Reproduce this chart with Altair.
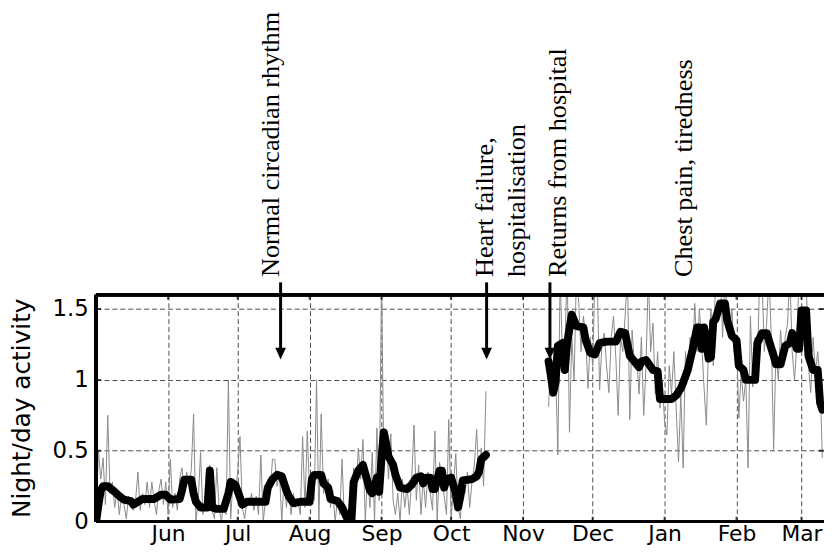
import altair as alt
import pandas as pd

START = pd.Timestamp("2005-05-01")

# thin grey daily series, first period (day 0 = 1 May)
gray1_start = 0
gray1 = [0.05, 0.50, 0.30, 0.45, 0.12, 0.75, 0.20, 0.28, 0.10, 0.22,
         0.05, 0.20, 0.12, 0.02, 0.18, 0.10, 0.08, 0.15, 0.35, 0.08,
         0.20, 0.12, 0.28, 0.10, 0.28, 0.15, 0.05, 0.22, 0.30, 0.12,
         0.28, 0.05, 0.44, 0.10, 0.20, 0.08, 0.30, 0.38, 0.22, 0.35,
         0.28, 0.36, 0.76, 0.00, 0.15, 0.49, 0.05, 0.12, 0.20, 0.40,
         0.08, 0.02, 0.38, 0.10, 0.00, 0.15, 0.05, 1.00, 0.02, 0.30,
         0.20, 0.35, 0.60, 0.10, 0.02, 0.15, 0.12, 0.20, 0.08, 0.18,
         0.05, 0.47, 0.00, 0.15, 0.30, 0.20, 0.44, 0.44, 0.25, 0.35,
         0.00, 0.30, 0.10, 0.25, 0.05, 0.20, 0.10, 0.15, 0.05, 0.60,
         0.10, 0.64, 0.20, 0.30, 0.15, 1.00, 0.00, 0.76, 0.20, 0.25,
         0.30, 0.10, 0.22, 0.00, 0.15, 0.05, 0.44, 0.00, 0.05, 0.00,
         0.00, 0.38, 0.20, 0.52, 0.30, 0.58, 0.00, 0.35, 0.10, 0.49,
         0.00, 0.66, 0.15, 1.70, 0.40, 0.64, 0.30, 0.62, 0.15, 0.05,
         0.20, 0.00, 0.30, 0.10, 0.25, 0.05, 0.30, 0.68, 0.15, 0.40,
         0.05, 0.30, 0.10, 0.35, 0.20, 0.08, 0.64, 0.00, 0.42, 0.30,
         0.18, 0.05, 0.72, 0.02, 0.25, 0.48, 0.10, 0.02, 0.30, 0.20,
         0.35, 0.10, 0.28, 0.40, 0.65, 0.30, 0.52, 0.25, 0.92]

# thin grey daily series, second period
gray2_start = 195
gray2 = [0.81, 1.17, 0.90, 1.10, 0.47, 1.75, 1.15, 1.20, 1.80, 0.63,
         1.30, 1.00, 1.75, 1.54, 1.20, 1.45, 1.30, 0.94, 1.30, 1.10,
         1.75, 1.70, 0.93, 1.25, 1.33, 1.10, 0.91, 1.30, 1.45, 1.15,
         0.75, 1.30, 1.20, 1.45, 1.75, 0.72, 1.35, 1.10, 1.15, 0.90,
         1.30, 0.75, 1.10, 1.75, 1.20, 1.40, 0.90, 1.20, 0.80, 1.00,
         0.70, 0.61, 1.10, 0.90, 1.20, 0.80, 0.42, 0.90, 0.38, 1.20,
         1.00, 1.30, 1.10, 1.54, 1.20, 1.50, 1.25, 0.95, 0.68, 1.30,
         1.50, 1.10, 1.75, 1.70, 1.80, 1.30, 1.75, 1.40, 1.30, 1.50,
         1.20, 1.30, 0.73, 1.05, 0.85, 1.00, 0.38, 1.45, 0.95, 1.30,
         1.10, 1.75, 1.70, 1.20, 1.40, 1.75, 1.30, 0.51, 1.20, 1.00,
         1.35, 1.10, 1.30, 1.40, 1.75, 1.20, 1.00, 1.25, 1.75, 1.70,
         1.80, 1.75, 1.10, 0.91, 1.30, 1.05, 1.20, 1.00, 0.45]

# thick black smoothed series
black1_days = [0, 1, 2, 3, 5, 8, 10, 12, 15, 16, 18, 20, 25, 28, 30, 32, 36, 37, 38, 41,
               42, 43, 45, 48, 49, 50, 52, 55, 57, 58, 60, 62, 63, 65, 69, 73, 74, 76, 78, 80,
               82, 83, 85, 88, 92, 93, 94, 97, 98, 100, 101, 104, 106, 108, 109, 110, 111, 113, 115, 116,
               118, 119, 121, 122, 123, 124, 125, 126, 128, 129, 131, 134, 136, 138, 140, 141, 142, 144, 145, 146,
               148, 149, 150, 151, 153, 155, 156, 157, 158, 162, 164, 165, 166, 168]
black1_vals = [0.00, 0.12, 0.22, 0.25, 0.25, 0.21, 0.18, 0.155, 0.145, 0.12, 0.14, 0.16, 0.16, 0.19, 0.19, 0.155, 0.16, 0.22, 0.295, 0.295,
               0.20, 0.14, 0.10, 0.10, 0.36, 0.10, 0.09, 0.09, 0.20, 0.28, 0.26, 0.17, 0.12, 0.14, 0.14, 0.14, 0.24, 0.30, 0.33, 0.32,
               0.22, 0.18, 0.13, 0.14, 0.14, 0.30, 0.33, 0.33, 0.27, 0.24, 0.16, 0.145, 0.10, 0.03, 0.00, 0.00, 0.28, 0.36, 0.40, 0.34,
               0.22, 0.20, 0.31, 0.21, 0.45, 0.63, 0.55, 0.46, 0.40, 0.33, 0.24, 0.23, 0.26, 0.31, 0.32, 0.27, 0.31, 0.31, 0.23, 0.23,
               0.36, 0.36, 0.24, 0.30, 0.31, 0.20, 0.10, 0.18, 0.29, 0.30, 0.32, 0.35, 0.44, 0.47]
black2_days = [195, 196, 197, 198, 199, 201, 202, 203, 205, 207, 210, 211, 213, 215, 217, 220, 224, 226, 228, 230,
               232, 234, 235, 237, 240, 242, 243, 248, 250, 252, 253, 255, 257, 259, 260, 261, 262, 264, 265, 266,
               267, 269, 271, 272, 274, 276, 277, 279, 280, 284, 285, 287, 289, 292, 293, 295, 297, 299, 300, 302,
               303, 304, 306, 307, 309, 311, 312, 313]
black2_vals = [1.13, 1.03, 0.91, 0.98, 1.24, 1.26, 1.07, 1.26, 1.46, 1.38, 1.37, 1.28, 1.19, 1.18, 1.26, 1.27, 1.27, 1.34, 1.33, 1.17,
               1.13, 1.09, 1.13, 1.14, 1.07, 1.06, 0.865, 0.865, 0.89, 0.94, 0.98, 1.07, 1.21, 1.37, 1.37, 1.22, 1.37, 1.15, 1.16, 1.41,
               1.43, 1.54, 1.54, 1.42, 1.31, 1.28, 1.10, 1.07, 1.00, 1.00, 1.26, 1.33, 1.33, 1.17, 1.11, 1.11, 1.24, 1.26, 1.33, 1.22,
               1.22, 1.49, 1.49, 1.17, 1.07, 1.07, 0.84, 0.79]

month_starts = ["2005-06-01", "2005-07-01", "2005-08-01", "2005-09-01", "2005-10-01",
                "2005-11-01", "2005-12-01", "2006-01-01", "2006-02-01", "2006-03-01"]
y_ticks = [0, 0.5, 1, 1.5]

notes = ["Normal circadian rhythm", "Heart failure,", "hospitalisation",
         "Returns from hospital", "Chest pain, tiredness"]
note_dates = ["2005-07-19T00:00:00Z", "2005-10-19T05:00:00Z", "2005-11-01T22:00:00Z",
              "2005-11-19T10:00:00Z", "2006-01-13T00:00:00Z"]
arrow_dates = ["2005-07-19T12:00:00Z", "2005-10-16T07:00:00Z", "2005-11-12T14:00:00Z"]

Y_TOP = 1.6
NOTE_Y = 1.7255
ARROW_Y0 = 1.688
ARROW_Y1 = 1.185


def iso(day):
    return (START + pd.Timedelta(days=day)).strftime("%Y-%m-%dT%H:%M:%SZ")


gray_rows = []
for seg, (s, vals) in enumerate([(gray1_start, gray1), (gray2_start, gray2)]):
    for i, v in enumerate(vals):
        gray_rows.append({"date": iso(s + i), "v": v, "seg": seg})
gray_df = pd.DataFrame(gray_rows)

black_rows = []
for seg, (ds, vs) in enumerate([(black1_days, black1_vals), (black2_days, black2_vals)]):
    for d, v in zip(ds, vs):
        black_rows.append({"date": iso(d), "v": v, "seg": seg})
black_df = pd.DataFrame(black_rows)

months_df = pd.DataFrame({"date": [m + "T00:00:00Z" for m in month_starts]})
yt_df = pd.DataFrame({"v": [t for t in y_ticks if t > 0]})
notes_df = pd.DataFrame({"text": notes, "date": note_dates})
arrows_df = pd.DataFrame({"date": arrow_dates})

d0 = alt.DateTime(year=2005, month=5, date=1, utc=True)
d1 = alt.DateTime(year=2006, month=3, date=10, hours=17, utc=True)
xscale = alt.Scale(type="utc", domain=[d0, d1])
yscale = alt.Scale(domain=[0, Y_TOP], nice=False, zero=False)

grid = dict(grid=True, gridDash=[5, 3], gridColor="#4d4d4d", gridWidth=1,
            domain=False, ticks=False)

xaxis = alt.Axis(values=[alt.DateTime(year=int(m[:4]), month=int(m[5:7]), date=1, utc=True) for m in month_starts],
                 labelExpr="utcFormat(datum.value, '%b')", title=None,
                 labelFont="DejaVu Sans", labelFontSize=22, labelColor="black",
                 labelPadding=2, **grid)
yaxis = alt.Axis(values=y_ticks, format="~g", title="Night/day activity",
                 labelFont="DejaVu Sans", labelFontSize=23, labelColor="black",
                 labelPadding=8, titleFont="DejaVu Sans", titleFontSize=25,
                 titleFontWeight="normal", titleColor="black", titleAngle=270,
                 titleAlign="center", titleBaseline="middle", titleX=-75, titleY=114,
                 **grid)

X = lambda **kw: alt.X("date:T", scale=xscale, **kw)

gray = alt.Chart(gray_df).mark_line(color="#8a8a8a", strokeWidth=1, clip=True).encode(
    x=X(axis=xaxis), y=alt.Y("v:Q", scale=yscale, axis=yaxis), detail="seg:N")

black = alt.Chart(black_df).mark_line(color="black", strokeWidth=8, strokeJoin="round",
                                      strokeCap="round", clip=True).encode(
    x=X(), y=alt.Y("v:Q", scale=yscale), detail="seg:N")

border_left = alt.Chart(months_df).mark_rule(color="black", strokeWidth=3).encode(
    x=alt.X(datum=d0, type="temporal", scale=xscale))
border_top = alt.Chart(months_df).mark_rule(color="black", strokeWidth=3).encode(
    y=alt.Y(datum=Y_TOP, scale=yscale))
border_bottom = alt.Chart(months_df).mark_rule(color="black", strokeWidth=3).encode(
    y=alt.Y(datum=0, scale=yscale))

ticks_bottom = alt.Chart(months_df).mark_tick(orient="vertical", size=10, thickness=2,
                                             color="black", clip=True).encode(
    x=X(), y=alt.Y(datum=0, scale=yscale))
ticks_top = alt.Chart(months_df).mark_tick(orient="vertical", size=10, thickness=2,
                                          color="black", clip=True).encode(
    x=X(), y=alt.Y(datum=Y_TOP, scale=yscale))
ticks_left = alt.Chart(yt_df).mark_tick(orient="horizontal", size=10, thickness=2,
                                       color="black", clip=True).encode(
    x=alt.X(datum=d0, type="temporal", scale=xscale), y=alt.Y("v:Q", scale=yscale))
ticks_right = alt.Chart(yt_df).mark_tick(orient="horizontal", size=10, thickness=2,
                                        color="black", clip=True).encode(
    x=alt.X(datum=d1, type="temporal", scale=xscale), y=alt.Y("v:Q", scale=yscale))

shafts = alt.Chart(arrows_df).mark_rule(color="black", strokeWidth=3).encode(
    x=X(), y=alt.Y(datum=ARROW_Y0, scale=yscale), y2=alt.Y2(datum=ARROW_Y1))
heads = alt.Chart(arrows_df).mark_point(shape="M-0.9,-1L0.9,-1L0,1Z", size=144, filled=True,
                                       color="black", opacity=1, strokeWidth=0).encode(
    x=X(), y=alt.Y(datum=ARROW_Y1, scale=yscale))

texts = alt.Chart(notes_df).mark_text(angle=270, align="left", baseline="alphabetic",
                                      font="Liberation Serif", fontSize=26.5, color="black").encode(
    x=X(), y=alt.Y(datum=NOTE_Y, scale=yscale), text="text:N")

chart = alt.layer(gray, black, border_left, border_top, border_bottom,
                  ticks_bottom, ticks_top, ticks_left, ticks_right,
                  shafts, heads, texts).properties(
    width=735, height=229,
    autosize=alt.AutoSizeParams(type="none"),
    padding={"left": 89, "top": 287, "right": 0, "bottom": 25},
).configure_view(stroke=None)

chart.save("out.html", embed_options={"renderer": "svg", "actions": False})
